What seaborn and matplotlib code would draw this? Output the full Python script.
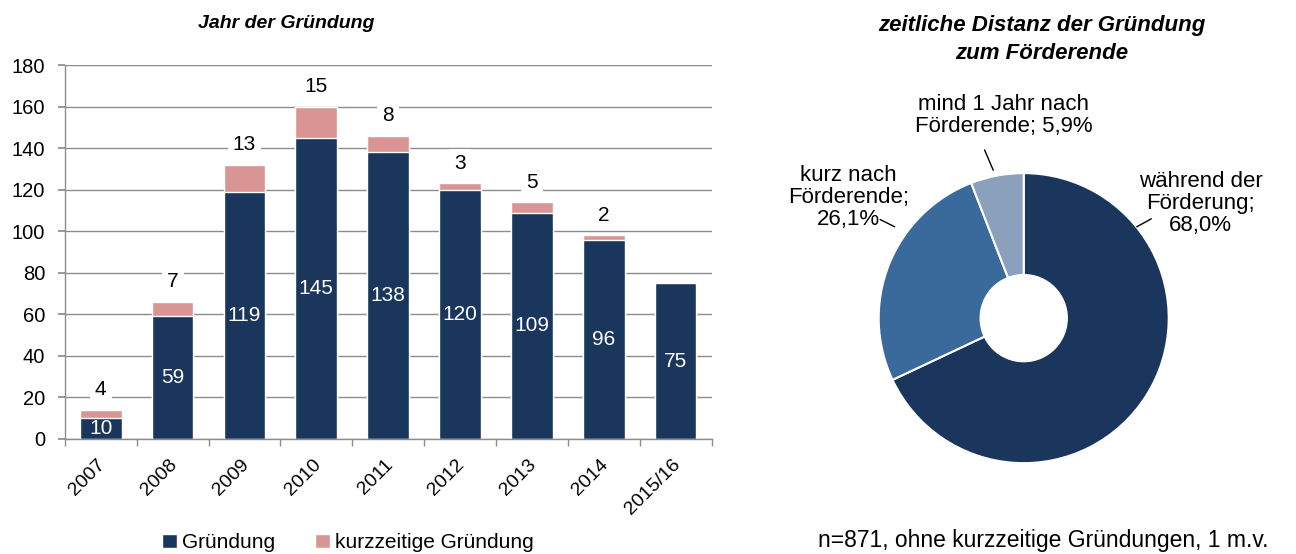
import numpy as np
import pandas as pd
import matplotlib
matplotlib.use('Agg')
import matplotlib.pyplot as plt
import matplotlib.transforms as mtransforms
import seaborn as sns

years = ['2007', '2008', '2009', '2010', '2011', '2012', '2013', '2014', '2015/16']
gruendung = [10, 59, 119, 145, 138, 120, 109, 96, 75]
kurzzeitig = [4, 7, 13, 15, 8, 3, 5, 2, 0]

pie_labels = ['während der\nFörderung;\n68,0%', 'kurz nach\nFörderende;\n26,1%',
              'mind 1 Jahr nach\nFörderende; 5,9%']
pie_values = [68.0, 26.1, 5.9]

navy = '#1B365D'
pink = '#D99594'
pie_colors = ['#1B365D', '#3A6A9C', '#8BA0BD']
gray = '#8c8c8c'

sns.set_theme(style='white')
plt.rcParams['font.family'] = ['Liberation Sans', 'DejaVu Sans']
plt.rcParams['text.color'] = 'black'

df = pd.DataFrame({'Jahr': years, 'Gründung': gruendung, 'kurz': kurzzeitig})
df['total'] = df['Gründung'] + df['kurz']

fig = plt.figure(figsize=(12.96, 5.54), dpi=100)
ax = fig.add_axes([0.050, 0.2076, 0.499, 0.675])

sns.barplot(data=df, x='Jahr', y='total', color=pink, saturation=1, width=0.58,
            edgecolor='white', linewidth=1, ax=ax, label='kurzzeitige Gründung')
sns.barplot(data=df, x='Jahr', y='Gründung', color=navy, saturation=1, width=0.58,
            edgecolor='white', linewidth=1, ax=ax, label='Gründung')
handles, labels = ax.get_legend_handles_labels()
if ax.get_legend() is not None:
    ax.get_legend().remove()

ax.set_ylim(0, 180)
ax.set_xlim(-0.5, len(years) - 0.5)
ax.set_yticks(range(0, 181, 20))
ax.yaxis.grid(True, color=gray, linewidth=1)
ax.set_axisbelow(True)
ax.set_xlabel('')
ax.set_ylabel('')
for s in ['top', 'right']:
    ax.spines[s].set_visible(False)
for s in ['left', 'bottom']:
    ax.spines[s].set_color(gray)
    ax.spines[s].set_linewidth(1)

ax.tick_params(axis='y', labelsize=14.5, length=5, color=gray, labelcolor='black', left=True, pad=9)
ax.set_xticks(range(len(years)))
ax.set_xticklabels(years, rotation=45, ha='right', va='top', rotation_mode='anchor', fontsize=14)
ax.tick_params(axis='x', which='major', length=0, pad=12, labelcolor='black')
ax.set_xticks(np.arange(-0.5, len(years), 1), minor=True)
ax.tick_params(axis='x', which='minor', length=5, color=gray, bottom=True)
shift = mtransforms.ScaledTranslation(-0.04, 0, fig.dpi_scale_trans)
for t in ax.get_xticklabels():
    t.set_transform(t.get_transform() + shift)

for i, (g, k) in enumerate(zip(gruendung, kurzzeitig)):
    ax.text(i, g / 2, str(g), ha='center', va='center', color='white', fontsize=15)
    if k > 0:
        ax.annotate(str(k), xy=(i, g + k), xytext=(0, 14.5), textcoords='offset points',
                    ha='center', va='center', fontsize=15,
                    bbox=dict(boxstyle='square,pad=0.25', fc='white', ec='none'))

fig.text(0.221, 0.958, 'Jahr der Gründung', ha='center', va='center',
         fontsize=14, fontweight='bold', style='italic')

order = [labels.index('Gründung'), labels.index('kurzzeitige Gründung')]
fig.legend([handles[j] for j in order], [labels[j] for j in order], loc='center',
           bbox_to_anchor=(0.2685, 0.02), ncol=2, frameon=False, fontsize=15,
           handlelength=0.7, handleheight=0.7, handletextpad=0.25, columnspacing=1.95,
           borderaxespad=0, borderpad=0)

# pie
pax = fig.add_axes([0.678, 0.164, 0.2238, 0.5235])
wedges, _ = pax.pie(pie_values, colors=pie_colors, startangle=90, counterclock=False,
                    radius=1, wedgeprops=dict(edgecolor='white', linewidth=1.5))
pax.add_patch(plt.Circle((0, 0), 0.3, color='white'))
pax.set_xlim(-1, 1)
pax.set_ylim(-1, 1)
pax.set_aspect('equal')
pax.axis('off')

# label centres and leader lines, in pie radius units
label_pos = [(1.22, 0.79), (-1.21, 0.83), (-0.14, 1.40)]
leaders = [((0.78, 0.63), (0.88, 0.685)),
           ((-0.89, 0.63), (-0.99, 0.68)),
           ((-0.21, 1.02), (-0.27, 1.16))]
for lab, p, (a, b) in zip(pie_labels, label_pos, leaders):
    pax.plot([a[0], b[0]], [a[1], b[1]], color='black', lw=1, clip_on=False)
    pax.text(p[0], p[1], lab, ha='center', va='center', fontsize=16, linespacing=1.05)

fig.text(0.804, 0.929, 'zeitliche Distanz der Gründung\nzum Förderende', ha='center', va='center',
         fontsize=16, fontweight='bold', style='italic', linespacing=1.45)
fig.text(0.805, 0.025, 'n=871, ohne kurzzeitige Gründungen, 1 m.v.', ha='center', va='center',
         fontsize=16.5)

fig.savefig('out.png', dpi=100)
